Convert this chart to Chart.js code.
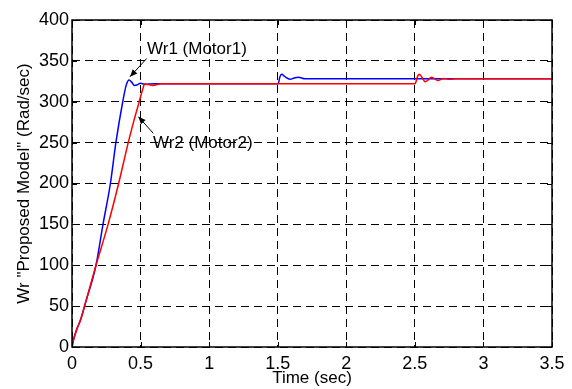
<!DOCTYPE html>
<html>
<head>
<meta charset="utf-8">
<script src="https://cdn.jsdelivr.net/npm/chart.js@4"></script>
<style>
  html, body { margin: 0; padding: 0; background: #fff; }
  #wrap { width: 572px; height: 389px; }
</style>
</head>
<body>
<div id="wrap"><canvas id="speedChart"></canvas></div>
<script>
// Rotor speed (Rad/sec vs sec)
const timeWr1 = [0, 0.01, 0.02, 0.04, 0.06, 0.1, 0.175, 0.226, 0.28, 0.32, 0.37, 0.395, 0.416, 0.435, 0.455, 0.474, 0.5, 0.53, 0.6,
  1.5, 1.505, 1.515, 1.53, 1.55, 1.59, 1.62, 1.65, 1.7, 3.5];
const valWr1 = [0, 8, 14, 24, 32, 55, 100, 150, 200, 250, 300, 320, 326.6, 324, 320, 320.5, 322.5, 321.5, 322,
  322, 322.5, 330, 333.5, 331, 327.5, 329, 330, 328, 328];

const timeWr2 = [0, 0.01, 0.02, 0.04, 0.06, 0.1, 0.175, 0.263, 0.34, 0.41, 0.45, 0.49, 0.515, 0.53, 0.56, 0.59, 0.65,
  2.5, 2.505, 2.52, 2.533, 2.555, 2.575, 2.6, 2.62, 2.645, 2.67, 2.69, 2.71, 2.75, 2.8, 3.5];
const valWr2 = [0, 8, 14, 24, 32, 55, 100, 150, 200, 250, 276, 300, 315, 321.7, 321, 320, 322,
  322, 323, 331, 333.5, 329, 324.5, 327, 330, 328, 326, 327.5, 328.5, 327.5, 328, 328];

const xTicks = [0, 0.5, 1, 1.5, 2, 2.5, 3, 3.5];
const yTicks = [0, 50, 100, 150, 200, 250, 300, 350, 400];

// text callouts: label anchor + arrow (tail -> head), in data units
const callouts = [
  { text: 'Wr1 (Motor1)', at: [0.547, 364.5], tail: [0.545, 353], head: [0.423, 330.6] },
  { text: 'Wr2 (Motor2)', at: [0.59, 249.5], tail: [0.593, 261.4], head: [0.484, 281.7] }
];

const FONT = '"Liberation Sans", Arial, sans-serif';

const toPoints = (ts, vs) => ts.map((t, i) => ({ x: t, y: vs[i] }));

// frame, inward ticks and callouts (MATLAB look)
const matlabLook = {
  id: 'matlabLook',
  afterDraw(chart) {
    const { ctx, chartArea: a, scales: { x, y } } = chart;
    ctx.save();
    ctx.strokeStyle = '#000';
    ctx.lineWidth = 1;
    ctx.setLineDash([]);
    ctx.beginPath();
    xTicks.forEach(v => {
      const px = Math.round(x.getPixelForValue(v)) + 0.5;
      ctx.moveTo(px, a.bottom); ctx.lineTo(px, a.bottom - 5);
      ctx.moveTo(px, a.top); ctx.lineTo(px, a.top + 5);
    });
    yTicks.forEach(v => {
      const py = Math.round(y.getPixelForValue(v)) + 0.5;
      ctx.moveTo(a.left, py); ctx.lineTo(a.left + 5, py);
      ctx.moveTo(a.right, py); ctx.lineTo(a.right - 5, py);
    });
    ctx.stroke();

    ctx.lineWidth = 1.5;
    ctx.strokeRect(a.left, a.top, a.right - a.left, a.bottom - a.top);

    ctx.lineWidth = 1;
    ctx.fillStyle = '#000';
    ctx.font = '17px ' + FONT;
    ctx.textAlign = 'left';
    ctx.textBaseline = 'middle';
    callouts.forEach(c => {
      ctx.fillText(c.text, x.getPixelForValue(c.at[0]), y.getPixelForValue(c.at[1]));
      const x1 = x.getPixelForValue(c.tail[0]), y1 = y.getPixelForValue(c.tail[1]);
      const x2 = x.getPixelForValue(c.head[0]), y2 = y.getPixelForValue(c.head[1]);
      const ang = Math.atan2(y2 - y1, x2 - x1);
      ctx.beginPath();
      ctx.moveTo(x1, y1); ctx.lineTo(x2, y2);
      ctx.stroke();
      ctx.beginPath();
      ctx.moveTo(x2, y2);
      ctx.lineTo(x2 - 8 * Math.cos(ang - 0.4), y2 - 8 * Math.sin(ang - 0.4));
      ctx.lineTo(x2 - 8 * Math.cos(ang + 0.4), y2 - 8 * Math.sin(ang + 0.4));
      ctx.closePath();
      ctx.fill();
    });
    ctx.restore();
  }
};

new Chart(document.getElementById('speedChart'), {
  type: 'line',
  data: {
    datasets: [
      {
        label: 'Wr1 (Motor1)',
        data: toPoints(timeWr1, valWr1),
        borderColor: '#0000ff',
        borderWidth: 1.5,
        pointRadius: 0,
        cubicInterpolationMode: 'monotone',
        order: 1
      },
      {
        label: 'Wr2 (Motor2)',
        data: toPoints(timeWr2, valWr2),
        borderColor: '#ff0000',
        borderWidth: 1.5,
        pointRadius: 0,
        cubicInterpolationMode: 'monotone',
        order: 0
      }
    ]
  },
  options: {
    responsive: true,
    maintainAspectRatio: false,
    animation: false,
    layout: { padding: { top: 20, right: 20, left: 0, bottom: 0 } },
    plugins: {
      legend: { display: false },
      tooltip: { enabled: false }
    },
    scales: {
      x: {
        type: 'linear',
        min: 0,
        max: 3.5,
        afterBuildTicks: s => { s.ticks = xTicks.map(v => ({ value: v })); },
        afterFit: s => { s.height = 42; },
        ticks: { color: '#000', font: { family: FONT, size: 18 }, padding: 6, maxRotation: 0, callback: v => String(v) },
        grid: { color: '#000', lineWidth: 1, drawTicks: false },
        border: { display: false, dash: [8, 5] },
        title: { display: true, text: 'Time (sec)', color: '#000', font: { family: FONT, size: 17 }, padding: { top: 0, bottom: 0 } }
      },
      y: {
        min: 0,
        max: 400,
        afterBuildTicks: s => { s.ticks = yTicks.map(v => ({ value: v })); },
        afterFit: s => { s.width = 72; },
        ticks: { color: '#000', font: { family: FONT, size: 18 }, padding: 3, callback: v => String(v) },
        grid: { color: '#000', lineWidth: 1, drawTicks: false },
        border: { display: false, dash: [8, 5] },
        title: { display: true, text: 'Wr "Proposed Model" (Rad/sec)', color: '#000', font: { family: FONT, size: 17 }, padding: { top: 14, bottom: 0 } }
      }
    }
  },
  plugins: [matlabLook]
});
</script>
</body>
</html>
